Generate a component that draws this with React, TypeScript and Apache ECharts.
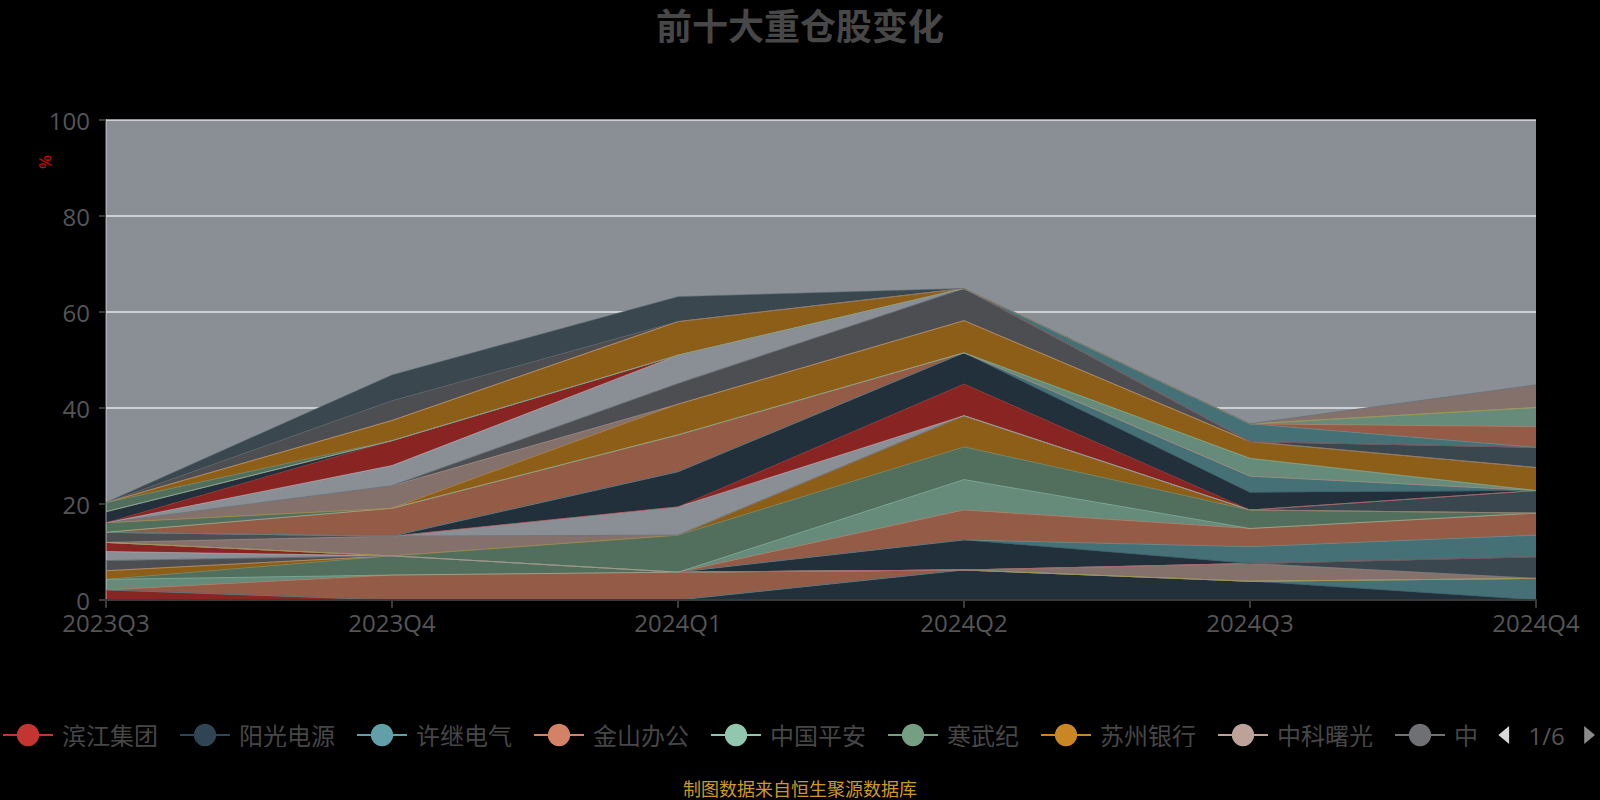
import React, { useEffect, useRef } from 'react';
import * as echarts from 'echarts';

const QUARTERS = ['2023Q3', '2023Q4', '2024Q1', '2024Q2', '2024Q3', '2024Q4'];

const PALETTE = ['#c23531', '#2f4554', '#61a0a8', '#d48265', '#91c7ae', '#749f83', '#ca8622', '#bda29a', '#6e7074', '#546570', '#c4ccd3'];

const STOCK_NAMES = [
  '滨江集团', '阳光电源', '许继电气', '金山办公', '中国平安', '寒武纪', '苏州银行', '中科曙光', '中际旭创', '宁德时代',
  '贵州茅台', '招商银行', '工业富联', '长江电力', '紫金矿业', '中国移动', '海光信息', '江苏银行', '浪潮信息', '立讯精密',
  '美的集团', '北方华创', '比亚迪', '沪电股份', '国电南瑞', '新易盛', '中国神华', '中芯国际', '宁波银行', '润泽科技',
  '天孚通信', '万华化学', '兴业银行', '恒生电子', '汇川技术', '中国电信', '胜宏科技', '工商银行', '科大讯飞', '杭州银行',
  '深南电路', '澜起科技', '中兴通讯',
];

// holding weight (%) per quarter: 2023Q3, 2023Q4, 2024Q1, 2024Q2, 2024Q3, 2024Q4
const HOLDING_PCT: number[][] = [
  [2.1, 0, 0, 0, 0, 0],
  [0, 0, 0, 6.25, 3.9, 0],
  [0, 0, 0, 0, 0, 4.5],
  [0, 5.2, 5.8, 0, 0, 0],
  [2.2, 0, 0, 0, 0, 0],
  [0, 4.0, 0, 0, 0, 0],
  [1.8, 0, 0, 0, 0, 0],
  [0, 0, 0, 0, 3.7, 0],
  [2.1, 0, 0, 0, 0, 0],
  [0, 0, 0, 0, 0, 4.5],
  [1.9, 0, 0, 0, 0, 0],
  [1.9, 0, 0, 0, 0, 0],
  [0, 0, 0, 6.25, 0, 0],
  [0, 0, 0, 0, 3.5, 4.5],
  [0, 0, 0, 6.25, 3.8, 4.6],
  [0, 0, 0, 6.35, 0, 0],
  [0, 0, 7.7, 6.8, 3.85, 0],
  [0, 0, 0, 6.5, 0, 0],
  [0, 4.1, 0, 0, 0, 0],
  [2.1, 0, 0, 0, 0, 0],
  [0, 0, 0, 0, 0, 4.7],
  [0, 0, 5.9, 0, 0, 0],
  [0, 0, 0, 6.6, 0, 0],
  [0, 0, 7.3, 6.5, 3.65, 0],
  [0, 0, 0, 0, 3.4, 0],
  [0, 5.8, 7.7, 0, 0, 0],
  [0, 0, 0, 0, 3.7, 0],
  [2.0, 0, 0, 0, 0, 0],
  [0, 0, 6.4, 6.7, 3.5, 4.8],
  [0, 4.7, 0, 0, 0, 0],
  [0, 0, 4.3, 6.7, 0, 0],
  [0, 0, 0, 0, 0, 4.2],
  [0, 4.2, 5.9, 0, 0, 0],
  [0, 5.2, 0, 0, 0, 0],
  [2.3, 0, 0, 0, 0, 0],
  [0, 0, 0, 0, 3.7, 0],
  [0, 0, 0, 0, 0, 4.3],
  [0, 0, 0, 0, 0, 4.0],
  [1.9, 0, 0, 0, 0, 0],
  [0, 4.2, 7.0, 0, 0, 0],
  [0, 0, 0, 0, 0, 4.7],
  [0, 4.1, 0, 0, 0, 0],
  [0, 5.4, 5.2, 0, 0, 0],
];

const Y_MIN = 0;
const Y_MAX = 100;
const Y_INTERVAL = 20;

const FONT = "'Open Sans', 'Noto Sans CJK SC', sans-serif";

function shade(hex: string, k = 0.7): string {
  const n = parseInt(hex.slice(1), 16);
  const r = Math.round(((n >> 16) & 255) * k);
  const g = Math.round(((n >> 8) & 255) * k);
  const b = Math.round((n & 255) * k);
  return `rgb(${r},${g},${b})`;
}

export default function App() {
  const ref = useRef<HTMLDivElement | null>(null);

  useEffect(() => {
    document.body.style.margin = '0';
    document.body.style.background = '#000';
    if (!ref.current) return;
    const chart = echarts.init(ref.current, undefined, { renderer: 'svg' });

    const series = STOCK_NAMES.map((name, i) => ({
      name,
      type: 'line',
      stack: 'total',
      data: HOLDING_PCT[i],
      symbol: 'none',
      lineStyle: { width: 1, opacity: 0.5 },
      areaStyle: { color: shade(PALETTE[i % PALETTE.length]), opacity: 1 },
      emphasis: { disabled: true },
    }));

    chart.setOption({
      animation: false,
      backgroundColor: '#000',
      color: PALETTE,
      textStyle: { fontFamily: FONT },
      title: [
        {
          text: '前十大重仓股变化',
          left: 'center',
          top: 3,
          textStyle: { fontSize: 36, fontWeight: 'bold', color: '#474747', fontFamily: FONT },
        },
        {
          text: '制图数据来自恒生聚源数据库',
          left: 'center',
          bottom: 0,
          padding: [5, 5, 2, 5],
          textStyle: { fontSize: 18, fontWeight: 'normal', color: '#cc9a2c', fontFamily: FONT },
        },
      ],
      graphic: [
        {
          type: 'text',
          x: 44,
          y: 162,
          rotation: Math.PI / 2,
          style: { text: '%', fill: '#e00000', font: `17px ${FONT}`, align: 'center', verticalAlign: 'middle' },
        },
      ],
      legend: {
        type: 'scroll',
        left: 0,
        top: 718,
        padding: [5, 5, 5, 2],
        itemWidth: 50,
        itemHeight: 28,
        itemGap: 21,
        textStyle: { fontSize: 24, color: '#474747', fontFamily: FONT, padding: [0, 0, 0, 4] },
        lineStyle: { width: 2, opacity: 1 },
        pageIconColor: '#8a8a8a',
        pageIconInactiveColor: '#d8d8d8',
        pageIconSize: 18,
        pageButtonItemGap: 8,
        pageTextStyle: { color: '#555', fontSize: 24 },
        data: STOCK_NAMES,
      },
      grid: {
        left: 106,
        right: 64,
        top: 120,
        bottom: 200,
        show: true,
        backgroundColor: shade(PALETTE[10]),
        borderWidth: 0,
      },
      xAxis: {
        type: 'category',
        data: QUARTERS,
        boundaryGap: false,
        z: 4,
        axisLine: { show: true, lineStyle: { color: '#3a3a3a', width: 2 } },
        axisTick: { show: true, length: 8, lineStyle: { color: '#3a3a3a', width: 2 } },
        axisLabel: { fontSize: 24, color: '#555', margin: 10, fontFamily: FONT },
        splitLine: { show: false },
      },
      yAxis: {
        type: 'value',
        min: Y_MIN,
        max: Y_MAX,
        interval: Y_INTERVAL,
        z: 3,
        axisLine: { show: true, lineStyle: { color: 'rgba(255,255,255,0.3)', width: 2 } },
        axisTick: { show: true, length: 7, lineStyle: { color: '#3a3a3a', width: 2 } },
        axisLabel: { fontSize: 24, color: '#555', margin: 16, fontFamily: FONT },
        splitLine: { show: true, lineStyle: { color: 'rgba(255,255,255,0.58)', width: 2 } },
      },
      series,
    });

    return () => chart.dispose();
  }, []);

  return <div ref={ref} style={{ position: 'absolute', left: 0, top: 0, width: 1600, height: 800, background: '#000' }} />;
}
